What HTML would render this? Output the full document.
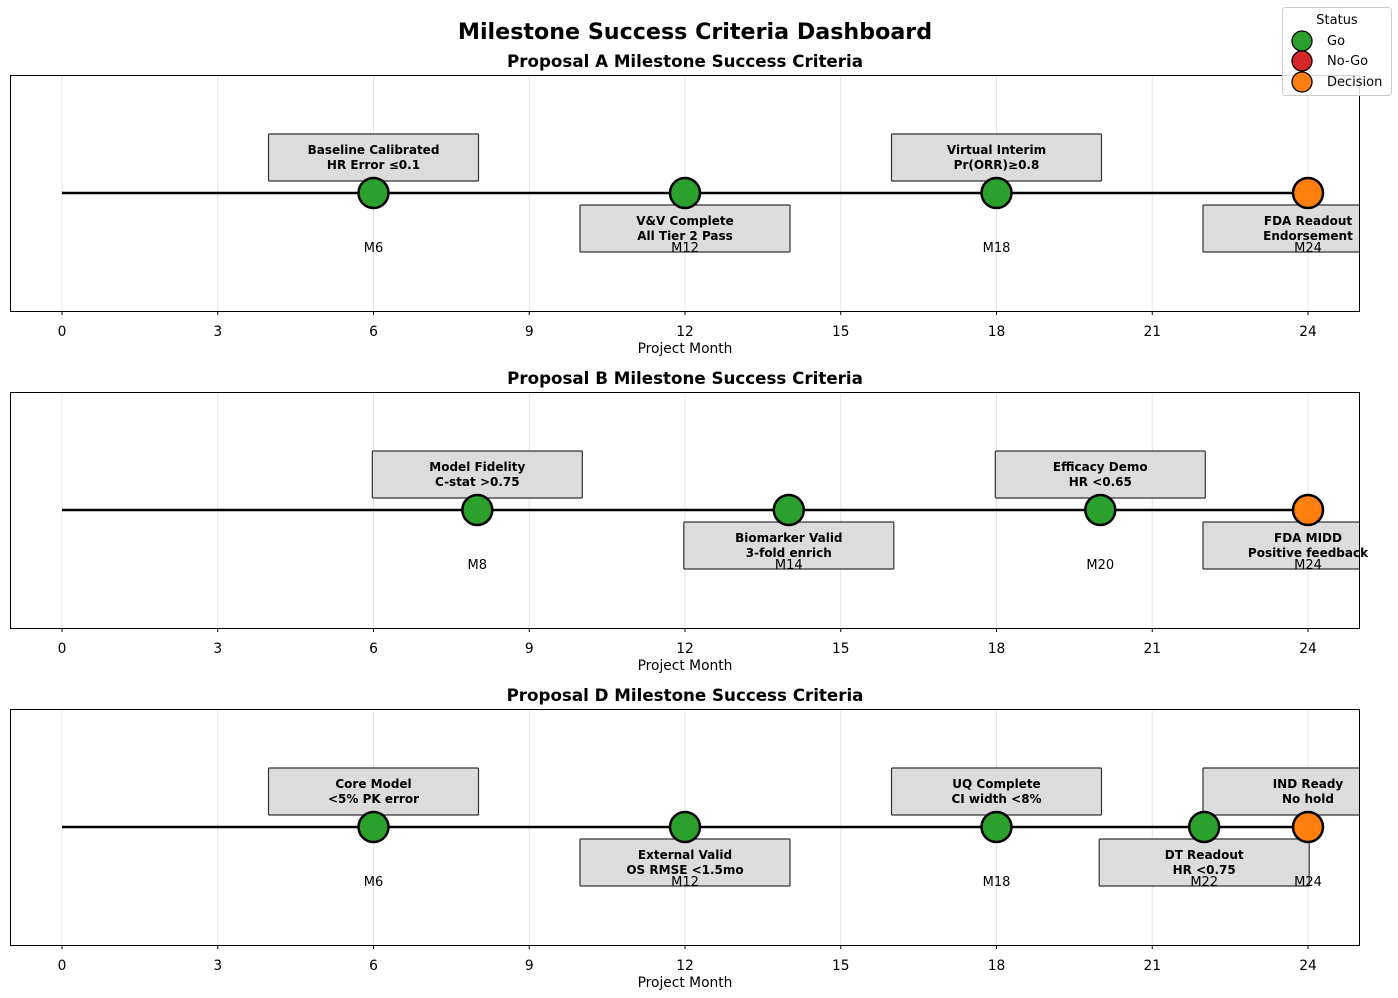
<!DOCTYPE html>
<html><head><meta charset="utf-8"><style>
html,body{margin:0;padding:0;background:#fff}
svg{display:block;font-family:"DejaVu Sans","Liberation Sans",sans-serif}
.tk{font-size:13.8px;text-anchor:middle}
.bx{fill:#dcdcdc;stroke:#333;stroke-width:1.2}
.bt{font-size:12px;font-weight:bold;text-anchor:middle}
.ml{font-size:13px;text-anchor:middle}
.g{stroke:#e4e4e4;stroke-width:1}
.go{fill:#2ca02c;stroke:#000;stroke-width:2.5}
.dc{fill:#ff7f0e;stroke:#000;stroke-width:2.5}
.pt{font-size:16.7px;font-weight:bold;text-anchor:middle}
</style></head><body>
<svg width="1398" height="998" viewBox="0 0 1398 998">
<defs><clipPath id="ax"><rect x="10" y="75" width="1349" height="236"/></clipPath></defs>
<text x="695" y="39" font-size="22.2" font-weight="bold" text-anchor="middle">Milestone Success Criteria Dashboard</text>

<!-- Panel A -->
<g>
<text class="pt" x="685" y="67">Proposal A Milestone Success Criteria</text>
<g class="g"><line x1="62" y1="75" x2="62" y2="311"/><line x1="217.75" y1="75" x2="217.75" y2="311"/><line x1="373.5" y1="75" x2="373.5" y2="311"/><line x1="529.25" y1="75" x2="529.25" y2="311"/><line x1="685" y1="75" x2="685" y2="311"/><line x1="840.75" y1="75" x2="840.75" y2="311"/><line x1="996.5" y1="75" x2="996.5" y2="311"/><line x1="1152.25" y1="75" x2="1152.25" y2="311"/><line x1="1308" y1="75" x2="1308" y2="311"/></g>
<line x1="62" y1="193" x2="1308" y2="193" stroke="#000" stroke-width="2.5"/>
<g clip-path="url(#ax)">
<rect class="bx" x="268.5" y="134" width="210" height="47" rx="1"/>
<rect class="bx" x="580" y="205" width="210" height="47" rx="1"/>
<rect class="bx" x="891.5" y="134" width="210" height="47" rx="1"/>
<rect class="bx" x="1203" y="205" width="210" height="47" rx="1"/>
</g>
<text class="bt" x="373.5" y="154">Baseline Calibrated</text><text class="bt" x="373.5" y="169">HR Error ≤0.1</text>
<text class="bt" x="685" y="225">V&amp;V Complete</text><text class="bt" x="685" y="240">All Tier 2 Pass</text>
<text class="bt" x="996.5" y="154">Virtual Interim</text><text class="bt" x="996.5" y="169">Pr(ORR)≥0.8</text>
<text class="bt" x="1308" y="225">FDA Readout</text><text class="bt" x="1308" y="240">Endorsement</text>
<circle class="go" cx="373.5" cy="193" r="15"/><circle class="go" cx="685" cy="193" r="15"/><circle class="go" cx="996.5" cy="193" r="15"/><circle class="dc" cx="1308" cy="193" r="15"/>
<text class="ml" x="373.5" y="252">M6</text><text class="ml" x="685" y="252">M12</text><text class="ml" x="996.5" y="252">M18</text><text class="ml" x="1308" y="252">M24</text>
<rect x="10.5" y="75.5" width="1349" height="236" fill="none" stroke="#000" stroke-width="1"/>
<g stroke="#000"><line x1="62" y1="311" x2="62" y2="315"/><line x1="217.75" y1="311" x2="217.75" y2="315"/><line x1="373.5" y1="311" x2="373.5" y2="315"/><line x1="529.25" y1="311" x2="529.25" y2="315"/><line x1="685" y1="311" x2="685" y2="315"/><line x1="840.75" y1="311" x2="840.75" y2="315"/><line x1="996.5" y1="311" x2="996.5" y2="315"/><line x1="1152.25" y1="311" x2="1152.25" y2="315"/><line x1="1308" y1="311" x2="1308" y2="315"/></g>
<g class="tk"><text x="62" y="336">0</text><text x="217.75" y="336">3</text><text x="373.5" y="336">6</text><text x="529.25" y="336">9</text><text x="685" y="336">12</text><text x="840.75" y="336">15</text><text x="996.5" y="336">18</text><text x="1152.25" y="336">21</text><text x="1308" y="336">24</text></g>
<text class="tk" x="685" y="353">Project Month</text>
</g>

<!-- Panel B -->
<g transform="translate(0,317)">
<text class="pt" x="685" y="67">Proposal B Milestone Success Criteria</text>
<g class="g"><line x1="62" y1="75" x2="62" y2="311"/><line x1="217.75" y1="75" x2="217.75" y2="311"/><line x1="373.5" y1="75" x2="373.5" y2="311"/><line x1="529.25" y1="75" x2="529.25" y2="311"/><line x1="685" y1="75" x2="685" y2="311"/><line x1="840.75" y1="75" x2="840.75" y2="311"/><line x1="996.5" y1="75" x2="996.5" y2="311"/><line x1="1152.25" y1="75" x2="1152.25" y2="311"/><line x1="1308" y1="75" x2="1308" y2="311"/></g>
<line x1="62" y1="193" x2="1308" y2="193" stroke="#000" stroke-width="2.5"/>
<g clip-path="url(#ax)">
<rect class="bx" x="372.3" y="134" width="210" height="47" rx="1"/>
<rect class="bx" x="683.8" y="205" width="210" height="47" rx="1"/>
<rect class="bx" x="995.3" y="134" width="210" height="47" rx="1"/>
<rect class="bx" x="1203" y="205" width="210" height="47" rx="1"/>
</g>
<text class="bt" x="477.3" y="154">Model Fidelity</text><text class="bt" x="477.3" y="169">C-stat &gt;0.75</text>
<text class="bt" x="788.8" y="225">Biomarker Valid</text><text class="bt" x="788.8" y="240">3-fold enrich</text>
<text class="bt" x="1100.3" y="154">Efficacy Demo</text><text class="bt" x="1100.3" y="169">HR &lt;0.65</text>
<text class="bt" x="1308" y="225">FDA MIDD</text><text class="bt" x="1308" y="240">Positive feedback</text>
<circle class="go" cx="477.3" cy="193" r="15"/><circle class="go" cx="788.8" cy="193" r="15"/><circle class="go" cx="1100.3" cy="193" r="15"/><circle class="dc" cx="1308" cy="193" r="15"/>
<text class="ml" x="477.3" y="252">M8</text><text class="ml" x="788.8" y="252">M14</text><text class="ml" x="1100.3" y="252">M20</text><text class="ml" x="1308" y="252">M24</text>
<rect x="10.5" y="75.5" width="1349" height="236" fill="none" stroke="#000" stroke-width="1"/>
<g stroke="#000"><line x1="62" y1="311" x2="62" y2="315"/><line x1="217.75" y1="311" x2="217.75" y2="315"/><line x1="373.5" y1="311" x2="373.5" y2="315"/><line x1="529.25" y1="311" x2="529.25" y2="315"/><line x1="685" y1="311" x2="685" y2="315"/><line x1="840.75" y1="311" x2="840.75" y2="315"/><line x1="996.5" y1="311" x2="996.5" y2="315"/><line x1="1152.25" y1="311" x2="1152.25" y2="315"/><line x1="1308" y1="311" x2="1308" y2="315"/></g>
<g class="tk"><text x="62" y="336">0</text><text x="217.75" y="336">3</text><text x="373.5" y="336">6</text><text x="529.25" y="336">9</text><text x="685" y="336">12</text><text x="840.75" y="336">15</text><text x="996.5" y="336">18</text><text x="1152.25" y="336">21</text><text x="1308" y="336">24</text></g>
<text class="tk" x="685" y="353">Project Month</text>
</g>

<!-- Panel D -->
<g transform="translate(0,634)">
<text class="pt" x="685" y="67">Proposal D Milestone Success Criteria</text>
<g class="g"><line x1="62" y1="75" x2="62" y2="311"/><line x1="217.75" y1="75" x2="217.75" y2="311"/><line x1="373.5" y1="75" x2="373.5" y2="311"/><line x1="529.25" y1="75" x2="529.25" y2="311"/><line x1="685" y1="75" x2="685" y2="311"/><line x1="840.75" y1="75" x2="840.75" y2="311"/><line x1="996.5" y1="75" x2="996.5" y2="311"/><line x1="1152.25" y1="75" x2="1152.25" y2="311"/><line x1="1308" y1="75" x2="1308" y2="311"/></g>
<line x1="62" y1="193" x2="1308" y2="193" stroke="#000" stroke-width="2.5"/>
<g clip-path="url(#ax)">
<rect class="bx" x="268.5" y="134" width="210" height="47" rx="1"/>
<rect class="bx" x="580" y="205" width="210" height="47" rx="1"/>
<rect class="bx" x="891.5" y="134" width="210" height="47" rx="1"/>
<rect class="bx" x="1099.2" y="205" width="210" height="47" rx="1"/>
<rect class="bx" x="1203" y="134" width="210" height="47" rx="1"/>
</g>
<text class="bt" x="373.5" y="154">Core Model</text><text class="bt" x="373.5" y="169">&lt;5% PK error</text>
<text class="bt" x="685" y="225">External Valid</text><text class="bt" x="685" y="240">OS RMSE &lt;1.5mo</text>
<text class="bt" x="996.5" y="154">UQ Complete</text><text class="bt" x="996.5" y="169">CI width &lt;8%</text>
<text class="bt" x="1204.2" y="225">DT Readout</text><text class="bt" x="1204.2" y="240">HR &lt;0.75</text>
<text class="bt" x="1308" y="154">IND Ready</text><text class="bt" x="1308" y="169">No hold</text>
<circle class="go" cx="373.5" cy="193" r="15"/><circle class="go" cx="685" cy="193" r="15"/><circle class="go" cx="996.5" cy="193" r="15"/><circle class="go" cx="1204.2" cy="193" r="15"/><circle class="dc" cx="1308" cy="193" r="15"/>
<text class="ml" x="373.5" y="252">M6</text><text class="ml" x="685" y="252">M12</text><text class="ml" x="996.5" y="252">M18</text><text class="ml" x="1204.2" y="252">M22</text><text class="ml" x="1308" y="252">M24</text>
<rect x="10.5" y="75.5" width="1349" height="236" fill="none" stroke="#000" stroke-width="1"/>
<g stroke="#000"><line x1="62" y1="311" x2="62" y2="315"/><line x1="217.75" y1="311" x2="217.75" y2="315"/><line x1="373.5" y1="311" x2="373.5" y2="315"/><line x1="529.25" y1="311" x2="529.25" y2="315"/><line x1="685" y1="311" x2="685" y2="315"/><line x1="840.75" y1="311" x2="840.75" y2="315"/><line x1="996.5" y1="311" x2="996.5" y2="315"/><line x1="1152.25" y1="311" x2="1152.25" y2="315"/><line x1="1308" y1="311" x2="1308" y2="315"/></g>
<g class="tk"><text x="62" y="336">0</text><text x="217.75" y="336">3</text><text x="373.5" y="336">6</text><text x="529.25" y="336">9</text><text x="685" y="336">12</text><text x="840.75" y="336">15</text><text x="996.5" y="336">18</text><text x="1152.25" y="336">21</text><text x="1308" y="336">24</text></g>
<text class="tk" x="685" y="353">Project Month</text>
</g>

<!-- Legend -->
<rect x="1282.5" y="7.5" width="109" height="88" rx="3" fill="#fff" fill-opacity="0.85" stroke="#ccc"/>
<text x="1337" y="24" font-size="13" text-anchor="middle">Status</text>
<circle cx="1302" cy="41" r="10" fill="#2ca02c" stroke="#000" stroke-width="1.3"/>
<circle cx="1302" cy="61" r="10" fill="#d62728" stroke="#000" stroke-width="1.3"/>
<circle cx="1302" cy="82" r="10" fill="#ff7f0e" stroke="#000" stroke-width="1.3"/>
<text x="1327" y="45" font-size="13">Go</text>
<text x="1327" y="65" font-size="13">No-Go</text>
<text x="1327" y="86" font-size="13">Decision</text>
</svg>
</body></html>
